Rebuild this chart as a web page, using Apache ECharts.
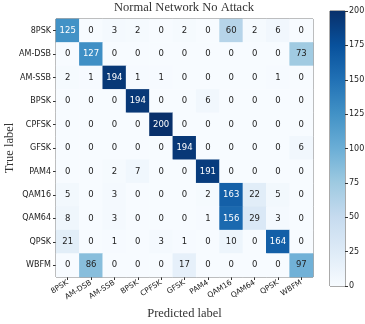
<!DOCTYPE html>
<html>
<head>
<meta charset="utf-8">
<script src="https://cdn.jsdelivr.net/npm/echarts@6/dist/echarts.min.js"></script>
<style>
  html, body { margin: 0; padding: 0; background: #fff; }
  #chart { width: 365px; height: 324px; }
</style>
</head>
<body>
<div id="chart"></div>
<script>
// Modulation classes (rows: true label, columns: predicted label)
const classes = ['8PSK', 'AM-DSB', 'AM-SSB', 'BPSK', 'CPFSK', 'GFSK', 'PAM4', 'QAM16', 'QAM64', 'QPSK', 'WBFM'];

// Confusion matrix counts, one row per true class
const matrix = [
  [125, 0, 3, 2, 0, 2, 0, 60, 2, 6, 0],
  [0, 127, 0, 0, 0, 0, 0, 0, 0, 0, 73],
  [2, 1, 194, 1, 1, 0, 0, 0, 0, 1, 0],
  [0, 0, 0, 194, 0, 0, 6, 0, 0, 0, 0],
  [0, 0, 0, 0, 200, 0, 0, 0, 0, 0, 0],
  [0, 0, 0, 0, 0, 194, 0, 0, 0, 0, 6],
  [0, 0, 2, 7, 0, 0, 191, 0, 0, 0, 0],
  [5, 0, 3, 0, 0, 0, 2, 163, 22, 5, 0],
  [8, 0, 3, 0, 0, 0, 1, 156, 29, 3, 0],
  [21, 0, 1, 0, 3, 1, 0, 10, 0, 164, 0],
  [0, 86, 0, 0, 0, 17, 0, 0, 0, 0, 97]
];

// Colour bar range and ticks
const colorMin = 0;
const colorMax = 200;
const colorTicks = 25;

// "Blues" colour ramp
const blues = ['#f7fbff', '#deebf7', '#c6dbef', '#9ecae1', '#6baed6', '#4292c6', '#2171b5', '#08519c', '#08306b'];

const cells = [];
matrix.forEach((row, r) => row.forEach((v, c) => cells.push({
  value: [c, r, v],
  // white text on dark cells, dark text elsewhere
  label: { color: v > colorMax / 2 ? '#fff' : '#222' }
})));

const chart = echarts.init(document.getElementById('chart'), null, { renderer: 'canvas' });

const serifFont = 'Liberation Serif';
const sansFont = 'DejaVu Sans';

chart.setOption({
  animation: false,
  backgroundColor: '#fff',
  title: {
    text: 'Normal Network No Attack',
    left: 184, top: 0, textAlign: 'center', padding: [1, 0, 0, 0],
    textStyle: { fontFamily: serifFont, fontWeight: 'normal', fontSize: 12.5, color: '#333' }
  },
  grid: [
    { left: 56, top: 19, width: 257, height: 258, show: true, borderColor: '#555', borderWidth: 1, backgroundColor: 'transparent', outerBoundsMode: 'none', containLabel: false },
    { left: 330, top: 11, width: 15, height: 275, show: true, borderColor: '#555', borderWidth: 1, outerBoundsMode: 'none', containLabel: false }
  ],
  xAxis: [
    {
      type: 'category', data: classes, gridIndex: 0,
      axisLine: { show: false },
      axisTick: { show: true, alignWithLabel: true, length: 3, lineStyle: { color: '#333' } },
      axisLabel: { rotate: 32, fontSize: 7.5, fontFamily: sansFont, color: '#222', margin: 5, interval: 0 },
      splitLine: { show: false },
      name: 'Predicted label', nameLocation: 'middle', nameGap: 30, nameMoveOverlap: false,
      nameTextStyle: { fontFamily: serifFont, fontSize: 12.5, color: '#333' }
    },
    {
      type: 'category', data: ['bar'], gridIndex: 1,
      show: false
    }
  ],
  yAxis: [
    {
      type: 'category', data: classes, gridIndex: 0, inverse: true,
      axisLine: { show: false },
      axisTick: { show: true, alignWithLabel: true, length: 3, lineStyle: { color: '#333' } },
      axisLabel: { fontSize: 8, fontFamily: sansFont, color: '#222', margin: 5, interval: 0 },
      splitLine: { show: false },
      name: 'True label', nameLocation: 'middle', nameGap: 40, nameRotate: 90, nameMoveOverlap: false,
      nameTextStyle: { fontFamily: serifFont, fontSize: 12.5, color: '#333' }
    },
    {
      type: 'value', gridIndex: 1, min: colorMin, max: colorMax, interval: colorTicks,
      position: 'right',
      axisLine: { show: false },
      axisTick: { show: true, length: 3, lineStyle: { color: '#333' } },
      axisLabel: { fontSize: 8, fontFamily: sansFont, color: '#222', margin: 4 },
      splitLine: { show: false }
    }
  ],
  visualMap: {
    show: false, min: colorMin, max: colorMax, seriesIndex: 0, dimension: 2,
    inRange: { color: blues }
  },
  series: [
    {
      type: 'heatmap', xAxisIndex: 0, yAxisIndex: 0, data: cells,
      label: {
        show: true, fontSize: 8.5, fontFamily: sansFont,
        formatter: p => String(p.value[2])
      },
      itemStyle: { borderWidth: 0 },
      emphasis: { disabled: true }
    },
    {
      type: 'bar', xAxisIndex: 1, yAxisIndex: 1, data: [colorMax],
      barWidth: '100%', silent: true,
      itemStyle: {
        color: new echarts.graphic.LinearGradient(0, 1, 0, 0,
          blues.map((c, i) => ({ offset: i / (blues.length - 1), color: c })))
      }
    }
  ]
});
</script>
</body>
</html>
